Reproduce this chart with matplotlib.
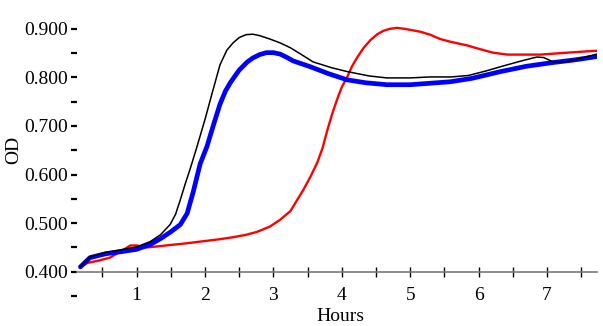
import numpy as np
import matplotlib
matplotlib.use("Agg")
import matplotlib.pyplot as plt
from matplotlib.ticker import MultipleLocator, FormatStrFormatter

plt.rcParams['font.family'] = ['Liberation Serif', 'DejaVu Serif']

# black curve (hours, OD)
black_h = [0.18, 0.32, 0.55, 0.76, 1.00, 1.20, 1.35, 1.49, 1.57, 1.64, 1.71, 1.78, 1.87,
           2.00, 2.10, 2.22, 2.32, 2.41, 2.50, 2.60, 2.70, 2.80, 2.95, 3.10, 3.25,
           3.40, 3.58, 3.85, 4.08, 4.40, 4.66, 5.00, 5.29, 5.60, 5.85, 6.10, 6.32,
           6.60, 6.85, 6.95, 7.09, 7.25, 7.45, 7.73]
black_od = [0.410, 0.431, 0.440, 0.445, 0.451, 0.462, 0.476, 0.497, 0.518, 0.548, 0.580, 0.610, 0.651,
            0.713, 0.765, 0.826, 0.856, 0.871, 0.882, 0.888, 0.889, 0.886, 0.879, 0.871, 0.861,
            0.848, 0.832, 0.820, 0.812, 0.803, 0.799, 0.799, 0.801, 0.801, 0.804, 0.813, 0.822,
            0.833, 0.842, 0.841, 0.832, 0.832, 0.838, 0.848]

# blue curve
blue_h = [0.18, 0.32, 0.55, 0.76, 1.00, 1.20, 1.35, 1.50, 1.64, 1.74, 1.83, 1.93,
          2.03, 2.12, 2.22, 2.30, 2.37, 2.50, 2.62, 2.70, 2.80, 2.90, 3.00, 3.10,
          3.20, 3.29, 3.54, 3.80, 4.08, 4.35, 4.66, 5.00, 5.29, 5.58, 5.90, 6.32,
          6.70, 7.05, 7.40, 7.73]
blue_od = [0.410, 0.429, 0.437, 0.441, 0.446, 0.456, 0.468, 0.482, 0.497, 0.520, 0.565, 0.622,
           0.658, 0.700, 0.745, 0.772, 0.789, 0.815, 0.832, 0.840, 0.847, 0.851, 0.851, 0.848,
           0.841, 0.834, 0.822, 0.808, 0.795, 0.789, 0.785, 0.785, 0.788, 0.791, 0.798, 0.812,
           0.823, 0.830, 0.836, 0.843]

# red curve
red_h = [0.18, 0.28, 0.45, 0.61, 0.76, 0.91, 1.00, 1.15, 1.30, 1.49, 1.70, 1.93,
         2.22, 2.41, 2.60, 2.76, 2.95, 3.10, 3.25, 3.44, 3.54, 3.64, 3.72, 3.79,
         3.86, 3.93, 4.00, 4.08, 4.15, 4.23, 4.32, 4.42, 4.52, 4.61, 4.70, 4.81,
         4.92, 5.00, 5.15, 5.29, 5.44, 5.60, 5.83, 6.00, 6.21, 6.42, 6.90, 7.30, 7.73]
red_od = [0.410, 0.418, 0.423, 0.429, 0.441, 0.454, 0.454, 0.450, 0.452, 0.455, 0.458, 0.462,
          0.467, 0.471, 0.476, 0.482, 0.493, 0.507, 0.525, 0.569, 0.595, 0.624, 0.655, 0.692,
          0.725, 0.754, 0.780, 0.801, 0.823, 0.842, 0.861, 0.877, 0.889, 0.896, 0.900, 0.902,
          0.900, 0.898, 0.894, 0.888, 0.879, 0.873, 0.866, 0.859, 0.851, 0.847, 0.847, 0.851, 0.855]

fig = plt.figure(figsize=(6.03, 3.26), dpi=100)
ax = fig.add_axes([0.1277, 0.092, 0.8623, 0.8344])

ax.plot(red_h, red_od, color='#ff0000', lw=1.7, solid_capstyle='round', solid_joinstyle='round')
ax.plot(blue_h, blue_od, color='#0000ff', lw=3.4, solid_capstyle='round', solid_joinstyle='round')
ax.plot(black_h, black_od, color='black', lw=1.1, solid_capstyle='round', solid_joinstyle='round')

ax.set_xlim(0.13, 7.73)
ax.set_ylim(0.35, 0.91)

for s in ['top', 'right', 'left']:
    ax.spines[s].set_visible(False)
ax.spines['bottom'].set_position(('data', 0.4))
ax.spines['bottom'].set_color('#7a7a7a')
ax.spines['bottom'].set_linewidth(1.2)

ax.xaxis.set_major_locator(MultipleLocator(1))
ax.xaxis.set_minor_locator(MultipleLocator(0.5))
ax.yaxis.set_major_locator(MultipleLocator(0.1))
ax.yaxis.set_minor_locator(MultipleLocator(0.05))
ax.yaxis.set_major_formatter(FormatStrFormatter('%.3f'))

ax.tick_params(axis='x', which='both', direction='inout', length=6.5, width=1.0,
               color='black', pad=8, labelsize=14)
ax.tick_params(axis='y', which='both', direction='out', length=4.3, width=1.6,
               color='black', pad=2, labelsize=14)

ax.set_xlabel('Hours', fontsize=14)
ax.xaxis.set_label_coords(0.506, -0.077)
ax.xaxis.label.set_va('center')
ax.set_ylabel('OD', fontsize=14)
ax.yaxis.set_label_coords(-0.121, 0.537)
ax.yaxis.label.set_va('center')

fig.savefig('out.png', dpi=100)
